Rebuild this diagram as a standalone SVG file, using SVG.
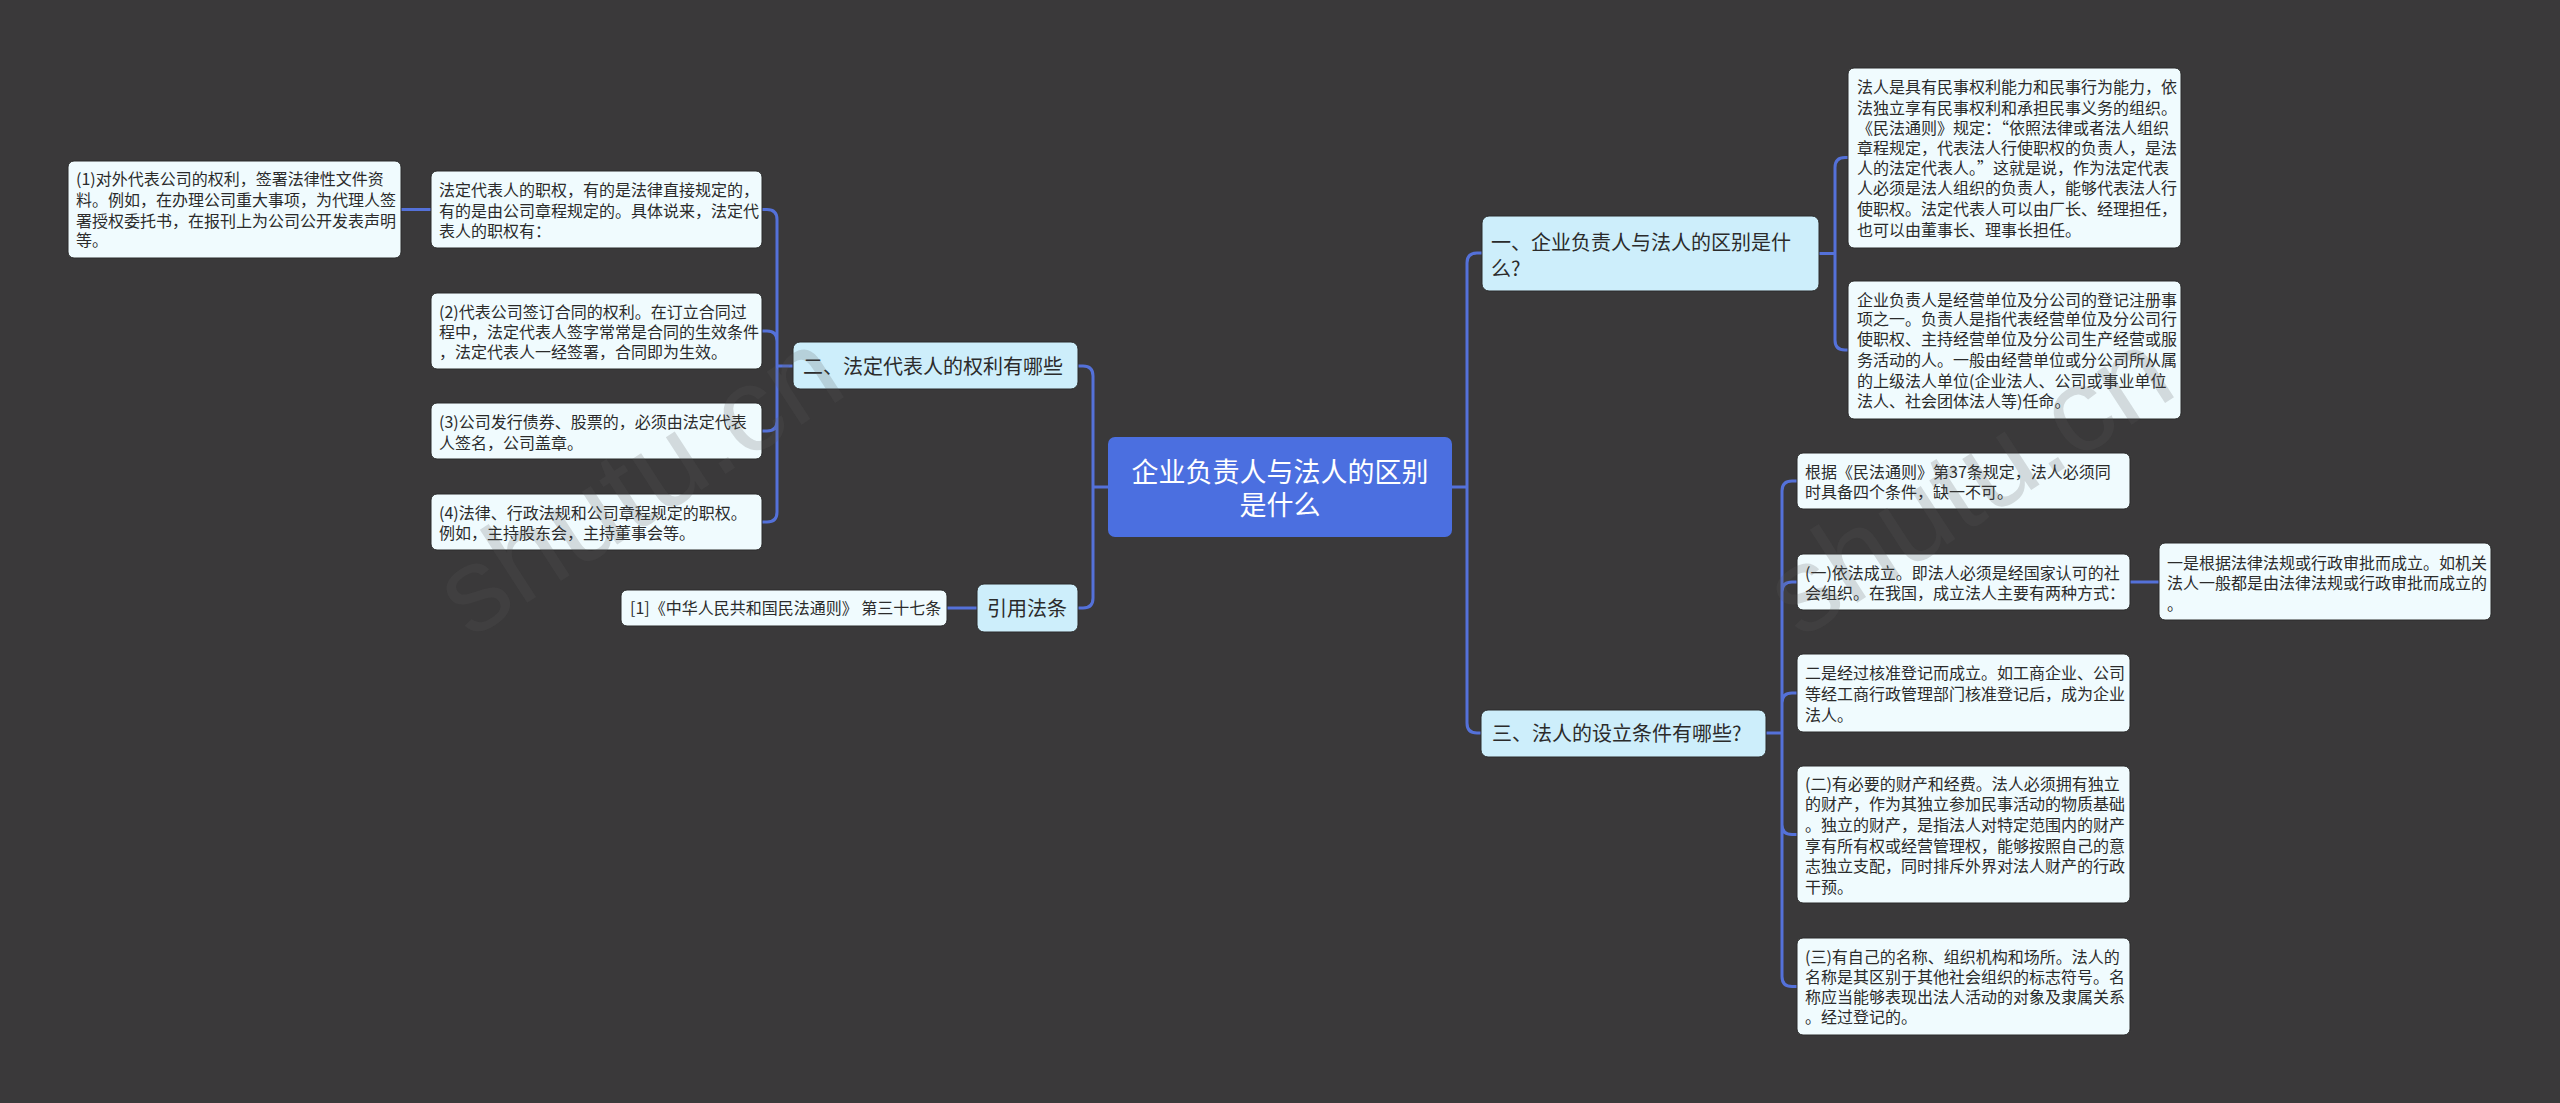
<svg xmlns="http://www.w3.org/2000/svg" width="2560" height="1103" viewBox="0 0 2560 1103">
<style>
text{font-family:"Noto Sans CJK SC","Noto Sans",sans-serif;fill:#2b2b2b}
.leaf rect{fill:#f0fbfe;stroke:#2a2a2a;stroke-width:1}
.leaf text{font-size:16px}
.l1 rect{fill:#cdeefb;stroke:#2a2a2a;stroke-width:1}
.l1 text{font-size:20px}
.root rect{fill:#4b6fe0}
.root text{font-size:27px;fill:#ffffff;text-anchor:middle}
#connectors path{fill:none;stroke:#5471d9;stroke-width:3;stroke-linecap:round}
.wm{font-family:"Liberation Sans",sans-serif;font-size:120px;fill:#5a5a5a;fill-opacity:0.2}
</style>
<rect width="2560" height="1103" fill="#3a393a"/>
<g id="connectors">
<path d="M1452,487 H1467 M1467,487 V263 Q1467,253 1477,253 H1482 M1467,487 V723 Q1467,733 1477,733 H1481"/>
<path d="M1108,487 H1093 M1093,487 V376 Q1093,366 1083,366 H1078 M1093,487 V598 Q1093,608 1083,608 H1078"/>
<path d="M793,366 H777 M777,366 V219.5 Q777,209.5 767,209.5 H762 M777,366 V341 Q777,331 767,331 H762 M777,366 V421 Q777,431 767,431 H762 M777,366 V512 Q777,522 767,522 H762"/>
<path d="M431,209.5 H401"/>
<path d="M977,608 H947"/>
<path d="M1819,253.5 H1835 M1835,253.5 V167.5 Q1835,157.5 1845,157.5 H1848 M1835,253.5 V340 Q1835,350 1845,350 H1848"/>
<path d="M1766,733 H1782 M1782,733 V491 Q1782,481 1792,481 H1797 M1782,733 V592 Q1782,582 1792,582 H1797 M1782,733 V703 Q1782,693 1792,693 H1797 M1782,733 V824.5 Q1782,834.5 1792,834.5 H1797 M1782,733 V976.5 Q1782,986.5 1792,986.5 H1797"/>
<path d="M2130,582 H2159"/>
</g>
<g id="root" class="root">
<rect x="1108" y="437" width="344" height="100" rx="7"/>
<text x="1280" y="482">企业负责人与法人的区别</text>
<text x="1280" y="515">是什么</text>
</g>
<g id="n1" class="l1">
<rect x="1482" y="216" width="337" height="75" rx="7"/>
<text x="1491" y="250">一、企业负责人与法人的区别是什</text>
<text x="1491" y="276">么?</text>
</g>
<g id="n3" class="l1">
<rect x="1481" y="710" width="285" height="47" rx="7"/>
<text x="1492" y="741">三、法人的设立条件有哪些?</text>
</g>
<g id="n2" class="l1">
<rect x="793" y="342" width="285" height="47" rx="7"/>
<text x="803" y="374">二、法定代表人的权利有哪些</text>
</g>
<g id="nref" class="l1">
<rect x="977" y="584" width="101" height="48" rx="7"/>
<text x="987" y="616">引用法条</text>
</g>
<g id="nA" class="leaf">
<rect x="1848" y="68" width="333" height="180" rx="6"/>
<text x="1857" y="93">法人是具有民事权利能力和民事行为能力，依</text>
<text x="1857" y="114">法独立享有民事权利和承担民事义务的组织。</text>
<text x="1857" y="134">《民法通则》规定：“依照法律或者法人组织</text>
<text x="1857" y="154">章程规定，代表法人行使职权的负责人，是法</text>
<text x="1857" y="174">人的法定代表人。”这就是说，作为法定代表</text>
<text x="1857" y="194">人必须是法人组织的负责人，能够代表法人行</text>
<text x="1857" y="215">使职权。法定代表人可以由厂长、经理担任，</text>
<text x="1857" y="236">也可以由董事长、理事长担任。</text>
</g>
<g id="nB" class="leaf">
<rect x="1848" y="281" width="333" height="138" rx="6"/>
<text x="1857" y="306">企业负责人是经营单位及分公司的登记注册事</text>
<text x="1857" y="325">项之一。负责人是指代表经营单位及分公司行</text>
<text x="1857" y="345">使职权、主持经营单位及分公司生产经营或服</text>
<text x="1857" y="366">务活动的人。一般由经营单位或分公司所从属</text>
<text x="1857" y="387">的上级法人单位(企业法人、公司或事业单位</text>
<text x="1857" y="407">法人、社会团体法人等)任命。</text>
</g>
<g id="nC1" class="leaf">
<rect x="1797" y="453" width="333" height="56" rx="6"/>
<text x="1805" y="478">根据《民法通则》第37条规定，法人必须同</text>
<text x="1805" y="498">时具备四个条件，缺一不可。</text>
</g>
<g id="nC2" class="leaf">
<rect x="1797" y="554" width="333" height="56" rx="6"/>
<text x="1805" y="579">(一)依法成立。即法人必须是经国家认可的社</text>
<text x="1805" y="599">会组织。在我国，成立法人主要有两种方式：</text>
</g>
<g id="nD" class="leaf">
<rect x="2159" y="543" width="332" height="77" rx="6"/>
<text x="2167" y="569">一是根据法律法规或行政审批而成立。如机关</text>
<text x="2167" y="589">法人一般都是由法律法规或行政审批而成立的</text>
<text x="2167" y="610">。</text>
</g>
<g id="nC3" class="leaf">
<rect x="1797" y="654" width="333" height="78" rx="6"/>
<text x="1805" y="679">二是经过核准登记而成立。如工商企业、公司</text>
<text x="1805" y="700">等经工商行政管理部门核准登记后，成为企业</text>
<text x="1805" y="721">法人。</text>
</g>
<g id="nC4" class="leaf">
<rect x="1797" y="766" width="333" height="137" rx="6"/>
<text x="1805" y="790">(二)有必要的财产和经费。法人必须拥有独立</text>
<text x="1805" y="810">的财产，作为其独立参加民事活动的物质基础</text>
<text x="1805" y="831">。独立的财产，是指法人对特定范围内的财产</text>
<text x="1805" y="852">享有所有权或经营管理权，能够按照自己的意</text>
<text x="1805" y="872">志独立支配，同时排斥外界对法人财产的行政</text>
<text x="1805" y="893">干预。</text>
</g>
<g id="nC5" class="leaf">
<rect x="1797" y="938" width="333" height="97" rx="6"/>
<text x="1805" y="963">(三)有自己的名称、组织机构和场所。法人的</text>
<text x="1805" y="983">名称是其区别于其他社会组织的标志符号。名</text>
<text x="1805" y="1003">称应当能够表现出法人活动的对象及隶属关系</text>
<text x="1805" y="1023">。经过登记的。</text>
</g>
<g id="nL0" class="leaf">
<rect x="431" y="171" width="331" height="77" rx="6"/>
<text x="439" y="196">法定代表人的职权，有的是法律直接规定的，</text>
<text x="439" y="217">有的是由公司章程规定的。具体说来，法定代</text>
<text x="439" y="237">表人的职权有：</text>
</g>
<g id="nL1" class="leaf">
<rect x="68" y="161" width="333" height="97" rx="6"/>
<text x="76" y="185">(1)对外代表公司的权利，签署法律性文件资</text>
<text x="76" y="206">料。例如，在办理公司重大事项，为代理人签</text>
<text x="76" y="227">署授权委托书，在报刊上为公司公开发表声明</text>
<text x="76" y="246">等。</text>
</g>
<g id="nL2" class="leaf">
<rect x="431" y="293" width="331" height="76" rx="6"/>
<text x="439" y="318">(2)代表公司签订合同的权利。在订立合同过</text>
<text x="439" y="338">程中，法定代表人签字常常是合同的生效条件</text>
<text x="439" y="358">，法定代表人一经签署，合同即为生效。</text>
</g>
<g id="nL3" class="leaf">
<rect x="431" y="403" width="331" height="56" rx="6"/>
<text x="439" y="428">(3)公司发行债券、股票的，必须由法定代表</text>
<text x="439" y="449">人签名，公司盖章。</text>
</g>
<g id="nL4" class="leaf">
<rect x="431" y="494" width="331" height="56" rx="6"/>
<text x="439" y="519">(4)法律、行政法规和公司章程规定的职权。</text>
<text x="439" y="539">例如，主持股东会，主持董事会等。</text>
</g>
<g id="nRef1" class="leaf">
<rect x="621" y="590" width="326" height="36" rx="6"/>
<text x="630" y="614">[1]《中华人民共和国民法通则》 第三十七条</text>
</g>
<g id="watermark">
<text class="wm" transform="translate(470,640) rotate(-33)">shutu.cn</text>
<text class="wm" transform="translate(1800,640) rotate(-33)">shutu.cn</text>
</g>
</svg>
